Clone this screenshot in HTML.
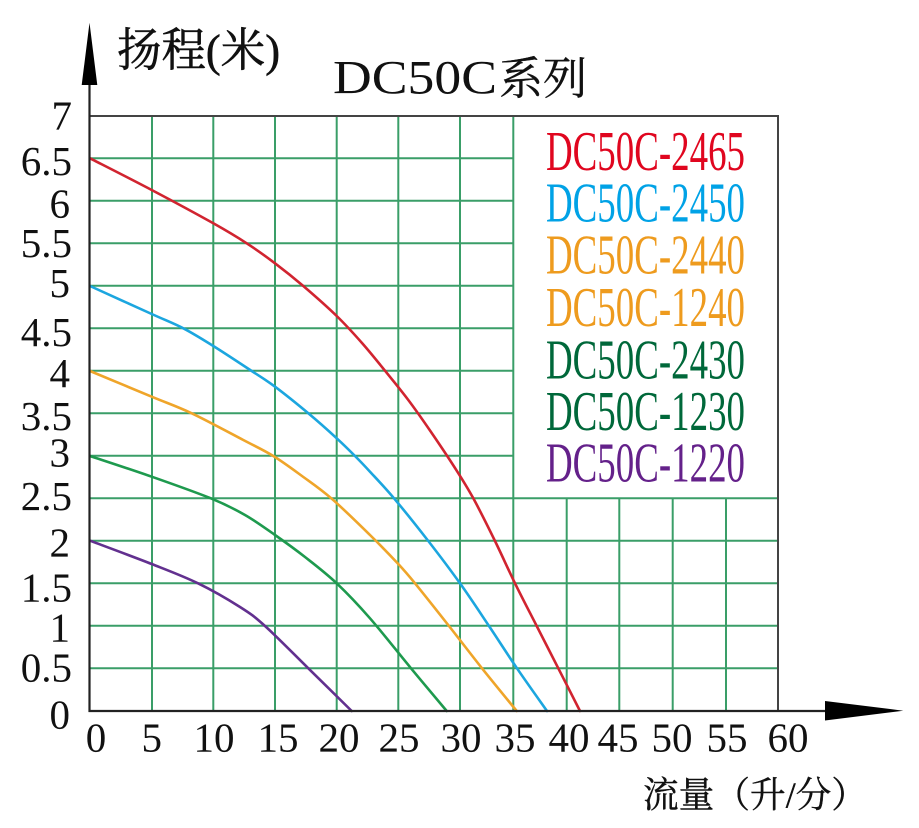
<!DOCTYPE html>
<html><head><meta charset="utf-8"><style>
html,body{margin:0;padding:0;background:#fff;}
svg{display:block;}
</style></head><body>
<svg id="chart" width="919" height="828" viewBox="0 0 919 828" xmlns="http://www.w3.org/2000/svg">
<rect width="919" height="828" fill="#fff"/>
<!-- gridlines -->
<g stroke="#3a9e68" stroke-width="2" fill="none">
  <line x1="89" y1="158.3" x2="513.3" y2="158.3"/>
  <line x1="89" y1="200.8" x2="513.3" y2="200.8"/>
  <line x1="89" y1="243.3" x2="513.3" y2="243.3"/>
  <line x1="89" y1="285.8" x2="513.3" y2="285.8"/>
  <line x1="89" y1="328.3" x2="513.3" y2="328.3"/>
  <line x1="89" y1="370.8" x2="513.3" y2="370.8"/>
  <line x1="89" y1="413.3" x2="513.3" y2="413.3"/>
  <line x1="89" y1="455.8" x2="513.3" y2="455.8"/>
  <line x1="89" y1="498.3" x2="778" y2="498.3"/>
  <line x1="89" y1="540.8" x2="778" y2="540.8"/>
  <line x1="89" y1="583.3" x2="778" y2="583.3"/>
  <line x1="89" y1="625.8" x2="778" y2="625.8"/>
  <line x1="89" y1="668.3" x2="778" y2="668.3"/>
  <line x1="152" y1="116" x2="152" y2="711"/>
  <line x1="213.3" y1="116" x2="213.3" y2="711"/>
  <line x1="275" y1="116" x2="275" y2="711"/>
  <line x1="336.7" y1="116" x2="336.7" y2="711"/>
  <line x1="398.3" y1="116" x2="398.3" y2="711"/>
  <line x1="460" y1="116" x2="460" y2="711"/>
  <line x1="513.3" y1="116" x2="513.3" y2="711"/>
  <line x1="566.7" y1="498.3" x2="566.7" y2="711"/>
  <line x1="619.3" y1="498.3" x2="619.3" y2="711"/>
  <line x1="672.7" y1="498.3" x2="672.7" y2="711"/>
  <line x1="726" y1="498.3" x2="726" y2="711"/>
</g>
<g stroke="#444" stroke-width="2" fill="none">
  <line x1="89" y1="116" x2="779" y2="116"/>
  <line x1="778" y1="116" x2="778" y2="711"/>
</g>
<!-- curves -->
<g id="curves" fill="none" stroke-width="2.6" stroke-linejoin="round" stroke-linecap="round">
  <polyline stroke="#d12430" points="90,158.3 151.7,190 213.3,223.3 246.7,243.3 275,263.3 303.3,286 336.7,316 362,343 385,370.7 408.3,400 430,430.5 455,468 473.3,498.3 495,541 515,583.3 536.7,626 558.3,668.3 580,711"/>
  <polyline stroke="#1ca6df" points="90,286 151.7,314 183.3,328.3 213.3,346 251.7,371 275,386.7 308.3,413.3 336.7,438.3 355,456 370,471.7 394,498.3 428.3,541 460,583.3 489,626 517,668.3 547,711"/>
  <polyline stroke="#efa52a" points="90,371 151.7,396.7 191.7,413.3 243.3,440 273.3,456 302,476 331.7,498.7 370,535 398.3,564 415,583.3 449,626 482,668.3 516.7,711"/>
  <polyline stroke="#1e9a4e" points="90,456 151.7,476.7 211.7,498.7 245,515 275,535 305,557 336.7,583.3 370,618.3 411,668.3 446.7,711"/>
  <polyline stroke="#62308f" points="90,540.7 151.7,564 198,583.3 240,607 265,626 308.3,668.3 351.7,711"/>
</g>
<!-- axes -->
<g stroke="#222" stroke-width="2.2" fill="none">
  <line x1="89.5" y1="80" x2="89.5" y2="712"/>
  <line x1="88.5" y1="711" x2="830" y2="711"/>
</g>
<polygon points="89.5,22.7 81.7,85 97.3,85" fill="#000"/>
<polygon points="825,701 903.3,710.7 825,720.5" fill="#000"/>
<!-- y labels -->
<g font-family="'Liberation Serif', serif" font-size="41" fill="#111" text-anchor="end">
  <text x="72" y="129.5">7</text>
  <text x="72" y="175">6.5</text>
  <text x="70" y="217.5">6</text>
  <text x="72" y="257">5.5</text>
  <text x="70" y="297">5</text>
  <text x="72" y="346">4.5</text>
  <text x="70" y="387">4</text>
  <text x="72" y="430">3.5</text>
  <text x="70" y="466.7">3</text>
  <text x="72" y="510">2.5</text>
  <text x="70" y="556.7">2</text>
  <text x="72" y="601.7">1.5</text>
  <text x="70" y="641.7">1</text>
  <text x="72" y="681.7">0.5</text>
  <text x="70" y="728.3">0</text>
</g>
<!-- x labels -->
<g font-family="'Liberation Serif', serif" font-size="41" fill="#111" text-anchor="middle">
  <text x="96" y="751.7">0</text>
  <text x="151.7" y="751.7">5</text>
  <text x="214" y="751.7">10</text>
  <text x="278" y="751.7">15</text>
  <text x="339" y="751.7">20</text>
  <text x="399" y="751.7">25</text>
  <text x="461" y="751.7">30</text>
  <text x="515" y="751.7">35</text>
  <text x="569" y="751.7">40</text>
  <text x="618" y="751.7">45</text>
  <text x="672" y="751.7">50</text>
  <text x="727" y="751.7">55</text>
  <text x="788" y="751.7">60</text>
</g>
<!-- axis titles -->
<text x="117" y="66" font-family="'Liberation Serif','Noto Serif CJK SC',serif" font-size="46" fill="#111" stroke="#111" stroke-width="0.6" textLength="163" lengthAdjust="spacingAndGlyphs">扬程(米)</text>
<text x="643" y="807" font-family="'Liberation Serif','Noto Serif CJK SC',serif" font-size="36" fill="#111" stroke="#111" stroke-width="0.4" textLength="224" lengthAdjust="spacingAndGlyphs">流量（升/分）</text>
<!-- title -->
<text x="333" y="93.3" font-family="'Liberation Serif',serif" font-size="48" fill="#111" textLength="164" lengthAdjust="spacingAndGlyphs">DC50C</text>
<text x="499" y="94" font-family="'Liberation Serif','Noto Serif CJK SC',serif" font-size="45" fill="#111" stroke="#111" stroke-width="0.4" textLength="88" lengthAdjust="spacingAndGlyphs">系列</text>
<!-- legend -->
<g font-family="'Liberation Serif',serif" font-size="56">
  <text x="546" y="170" fill="#e0061f" textLength="199" lengthAdjust="spacingAndGlyphs">DC50C-2465</text>
  <text x="546" y="221.7" fill="#00a2e6" textLength="199" lengthAdjust="spacingAndGlyphs">DC50C-2450</text>
  <text x="546" y="273.3" fill="#ee9b1e" textLength="199" lengthAdjust="spacingAndGlyphs">DC50C-2440</text>
  <text x="546" y="326" fill="#ee9b1e" textLength="199" lengthAdjust="spacingAndGlyphs">DC50C-1240</text>
  <text x="546" y="378.3" fill="#00683a" textLength="199" lengthAdjust="spacingAndGlyphs">DC50C-2430</text>
  <text x="546" y="430" fill="#00683a" textLength="199" lengthAdjust="spacingAndGlyphs">DC50C-1230</text>
  <text x="546" y="481.7" fill="#64218a" textLength="199" lengthAdjust="spacingAndGlyphs">DC50C-1220</text>
</g>
</svg>
<script>
(function(){
  var NS="http://www.w3.org/2000/svg";
  var g=document.getElementById("curves");
  if(!g) return;
  var pls=g.querySelectorAll("polyline");
  for(var k=0;k<pls.length;k++){
    var pl=pls[k];
    var raw=pl.getAttribute("points").trim().split(/\s+/);
    var p=[];
    for(var i=0;i<raw.length;i++){var c=raw[i].split(",");p.push([parseFloat(c[0]),parseFloat(c[1])]);}
    var d="M"+p[0][0]+","+p[0][1];
    for(var i=0;i<p.length-1;i++){
      var p0=p[i>0?i-1:i],p1=p[i],p2=p[i+1],p3=p[i+2<p.length?i+2:i+1];
      var c1x=p1[0]+(p2[0]-p0[0])/6,c1y=p1[1]+(p2[1]-p0[1])/6;
      var c2x=p2[0]-(p3[0]-p1[0])/6,c2y=p2[1]-(p3[1]-p1[1])/6;
      d+=" C"+c1x.toFixed(2)+","+c1y.toFixed(2)+" "+c2x.toFixed(2)+","+c2y.toFixed(2)+" "+p2[0]+","+p2[1];
    }
    var path=document.createElementNS(NS,"path");
    path.setAttribute("d",d);
    path.setAttribute("stroke",pl.getAttribute("stroke"));
    g.replaceChild(path,pl);
  }
})();
</script>
</body></html>
